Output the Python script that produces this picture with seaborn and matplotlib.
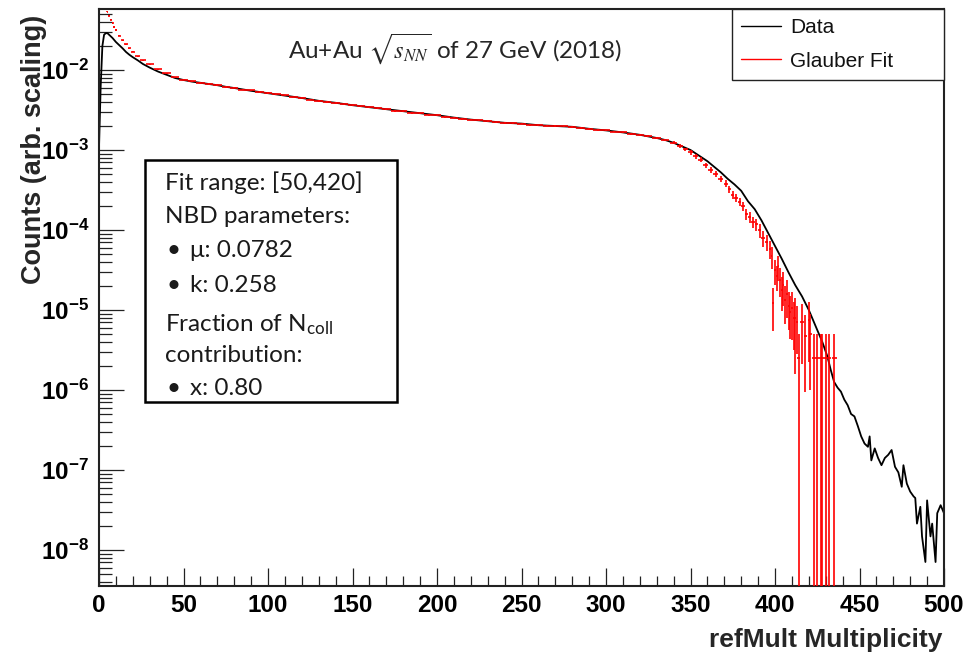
import numpy as np
import pandas as pd
import matplotlib
matplotlib.use("Agg")
import matplotlib.pyplot as plt
import seaborn as sns
from matplotlib.patches import Rectangle
from matplotlib.lines import Line2D
from matplotlib.ticker import LogLocator, NullFormatter, MultipleLocator

# ---------------- data ----------------
# Black histogram: refMult multiplicity and log10(counts)
data_mult = [0, 1, 2, 3, 4, 5, 6, 7, 8, 9,
             10, 12, 14, 16, 18, 20, 23, 26, 30, 35,
             40, 45, 50, 55, 60, 65, 70, 75, 80, 90,
             100, 110, 120, 130, 140, 150, 160, 170, 180, 190,
             200, 210, 220, 230, 240, 250, 260, 270, 280, 290,
             300, 310, 320, 330, 335, 340, 345, 350, 355, 360,
             364, 368, 372, 376, 380, 384, 388, 392, 396, 400,
             404, 408, 412, 416, 420, 424, 428, 431, 433, 435,
             437, 439, 441, 443, 445, 447, 449, 451, 453, 455,
             456, 457, 459, 461, 463, 465, 467, 469, 471, 473,
             475, 476, 478, 480, 482, 483, 484, 486, 487, 489,
             490, 492, 493, 495, 496, 498, 500]
data_log10 = [-2.97, -2.20, -1.70, -1.56, -1.54, -1.54, -1.56, -1.58, -1.60, -1.625,
              -1.65, -1.69, -1.73, -1.775, -1.81, -1.84, -1.88, -1.925, -1.97, -2.02,
              -2.06, -2.10, -2.125, -2.145, -2.16, -2.175, -2.19, -2.21, -2.225, -2.26,
              -2.29, -2.32, -2.35, -2.385, -2.41, -2.44, -2.465, -2.49, -2.515, -2.54,
              -2.565, -2.595, -2.62, -2.64, -2.66, -2.67, -2.69, -2.70, -2.71, -2.735,
              -2.755, -2.78, -2.81, -2.85, -2.875, -2.91, -2.955, -3.00, -3.07, -3.14,
              -3.21, -3.28, -3.36, -3.43, -3.51, -3.64, -3.74, -3.88, -4.04, -4.20,
              -4.36, -4.53, -4.69, -4.83, -5.00, -5.20, -5.40, -5.58, -5.75, -5.90,
              -5.97, -6.02, -6.12, -6.19, -6.30, -6.33, -6.45, -6.58, -6.67, -6.71,
              -6.58, -6.88, -6.73, -6.85, -6.94, -6.85, -6.81, -6.75, -6.96, -7.03,
              -7.21, -6.94, -7.17, -7.27, -7.33, -7.35, -7.67, -7.46, -7.83, -8.15,
              -7.38, -7.83, -7.67, -8.15, -7.54, -7.44, -7.54]

# Red Glauber fit points: multiplicity, log10(value), relative error
fit_mult = [5, 6, 7, 8, 9, 10, 12, 14, 16, 18, 20, 23, 26, 30, 35, 40, 45,
            50, 55, 60, 65, 70, 75, 80, 85, 90, 95,
            100, 105, 110, 115, 120, 125, 130, 135, 140, 145,
            150, 155, 160, 165, 170, 175, 180, 185, 190, 195,
            200, 205, 210, 215, 220, 225, 230, 235, 240, 245,
            250, 255, 260, 265, 270, 275, 280, 285, 290, 295,
            300, 305, 310, 315, 320, 325, 330, 335, 340,
            344, 347, 350, 353, 356, 359, 362, 365, 368, 371,
            373, 375, 377, 379, 381, 383, 385, 387, 389, 391, 393, 395, 397,
            398, 399, 400, 401, 402, 403, 404, 405, 406, 407, 408, 409, 410,
            411, 412, 413, 414,
            416, 418, 420, 421, 423, 425, 427, 428, 430, 432, 435]
fit_log10 = [-1.27, -1.32, -1.37, -1.41, -1.46, -1.50, -1.57, -1.63, -1.68, -1.73,
             -1.77, -1.83, -1.88, -1.93, -1.99, -2.04, -2.09,
             -2.12, -2.14, -2.16, -2.175, -2.185, -2.21, -2.22, -2.245, -2.255, -2.275,
             -2.285, -2.305, -2.315, -2.34, -2.345, -2.37, -2.385, -2.40, -2.41, -2.43,
             -2.44, -2.455, -2.465, -2.48, -2.49, -2.51, -2.515, -2.535, -2.54, -2.56,
             -2.565, -2.585, -2.595, -2.61, -2.62, -2.63, -2.64, -2.655, -2.66, -2.665,
             -2.67, -2.685, -2.69, -2.695, -2.70, -2.705, -2.71, -2.725, -2.735, -2.75,
             -2.755, -2.77, -2.78, -2.795, -2.81, -2.83, -2.85, -2.875, -2.91,
             -2.95, -2.99, -3.03, -3.08, -3.12, -3.19, -3.25, -3.30, -3.36, -3.42,
             -3.49, -3.56, -3.60, -3.65, -3.70, -3.80, -3.84, -3.90, -3.93, -4.00, -4.10, -4.15, -4.24,
             -4.33, -4.91, -4.50, -4.58, -4.45, -4.62, -4.75, -4.69, -4.88, -4.80, -4.95, -5.02, -4.98,
             -5.10, -5.10, -5.15, -5.60,
             -5.15, -5.32, -5.13, -5.30, -5.60, -5.60, -5.60, -5.60, -5.60, -5.60, -5.60]
fit_relerr = [0.02, 0.02, 0.02, 0.02, 0.02, 0.02, 0.02, 0.02, 0.02, 0.02,
              0.02, 0.02, 0.02, 0.02, 0.02, 0.02, 0.02,
              0.02, 0.02, 0.02, 0.02, 0.02, 0.02, 0.02, 0.02, 0.02, 0.02,
              0.02, 0.02, 0.02, 0.02, 0.02, 0.02, 0.02, 0.02, 0.02, 0.02,
              0.02, 0.02, 0.02, 0.02, 0.02, 0.02, 0.02, 0.02, 0.02, 0.02,
              0.02, 0.02, 0.02, 0.02, 0.02, 0.02, 0.02, 0.02, 0.02, 0.02,
              0.02, 0.02, 0.02, 0.02, 0.02, 0.02, 0.02, 0.02, 0.02, 0.02,
              0.02, 0.02, 0.02, 0.03, 0.03, 0.03, 0.03, 0.04, 0.04,
              0.05, 0.05, 0.06, 0.06, 0.07, 0.07, 0.08, 0.08, 0.09, 0.10,
              0.10, 0.11, 0.12, 0.12, 0.13, 0.15, 0.15, 0.17, 0.18, 0.20, 0.22, 0.22, 0.25,
              0.30, 0.55, 0.35, 0.35, 0.35, 0.40, 0.45, 0.45, 0.50, 0.50, 0.50, 0.55, 0.60,
              0.60, 0.80, 0.60, 1.00,
              0.70, 0.80, 0.70, 0.80, 1.00, 1.00, 1.00, 1.00, 1.00, 1.00, 1.00]

x_ticks = [0, 50, 100, 150, 200, 250, 300, 350, 400, 450, 500]
x_tick_labels = ["0", "50", "100", "150", "200", "250", "300", "350", "400", "450", "500"]
y_tick_exponents = [-8, -7, -6, -5, -4, -3, -2]

legend_labels = ["Data", "Glauber Fit"]
title_text = r"Au+Au $\sqrt{s_{NN}}$ of 27 GeV (2018)"
info_lines = ["Fit range: [50,420]", "NBD parameters:", None, None,
              r"Fraction of N$_{\mathrm{coll}}$", "contribution:", None]
info_bullets = {2: "μ: 0.0782", 3: "k: 0.258", 6: "x: 0.80"}

# ---------------- style ----------------
sns.set_theme(style="white")
plt.rcParams["font.family"] = ["Liberation Sans", "DejaVu Sans"]
plt.rcParams.update({
    "mathtext.fontset": "custom",
    "mathtext.rm": "Lato",
    "mathtext.it": "STIXGeneral:italic",
    "mathtext.bf": "Liberation Sans:bold",
    "mathtext.fallback": "stix",
    "axes.edgecolor": "#222222",
    "axes.linewidth": 1.5,
    "xtick.bottom": True,
    "ytick.left": True,
})

fig = plt.figure(figsize=(9.72, 6.55), dpi=100)
ax = fig.add_axes([99 / 972, 1 - 586 / 655, (944 - 99) / 972, (586 - 9) / 655])
ax.set_yscale("log")

df = pd.DataFrame({"mult": data_mult, "counts": 10 ** np.array(data_log10)})
sns.lineplot(data=df, x="mult", y="counts", ax=ax, color="black", lw=1.3,
             estimator=None, sort=False, legend=False, zorder=2)

fx = np.array(fit_mult, dtype=float)
fy = 10 ** np.array(fit_log10)
ferr = np.array(fit_relerr) * fy
flow = np.where(ferr >= fy, fy - 1e-15, ferr)
fxerr = np.gradient(fx) / 2.0
ax.errorbar(fx, fy, xerr=fxerr, yerr=[flow, ferr], fmt="none", ecolor="red",
            elinewidth=1.2, capsize=0, zorder=3)

ax.set_xlim(0, 500)
ax.set_ylim(10 ** (-8.45), 10 ** (-1.2375))

ax.set_xticks(x_ticks)
ax.set_xticklabels(x_tick_labels, fontweight="bold")
ax.xaxis.set_minor_locator(MultipleLocator(10))
ax.set_yticks([10.0 ** e for e in y_tick_exponents])
ax.set_yticklabels([r"$\mathbf{10^{%d}}$" % e for e in y_tick_exponents])
ax.yaxis.set_minor_locator(LogLocator(base=10, subs=np.arange(2, 10)))
ax.yaxis.set_minor_formatter(NullFormatter())

ax.tick_params(axis="both", which="both", direction="in", top=False, right=False,
               bottom=True, left=True, color="#222222", width=0.9, labelcolor="black")
ax.tick_params(axis="x", which="major", length=13, pad=6, labelsize=17.5)
ax.tick_params(axis="x", which="minor", length=7)
ax.tick_params(axis="y", which="major", length=18, pad=7, labelsize=17.5)
ax.tick_params(axis="y", which="minor", length=9)
for sp in ax.spines.values():
    sp.set_visible(True)
    sp.set_color("#222222")
    sp.set_linewidth(1.5)

ax.set_ylabel("Counts (arb. scaling)", fontsize=19.5, fontweight="bold", loc="top")
ax.yaxis.set_label_coords(-0.062, 0.99)
ax.set_xlabel("refMult Multiplicity", fontsize=19, fontweight="bold", loc="right")
ax.xaxis.set_label_coords(0.9976, -0.073)

# legend
handles = [Line2D([], [], color="black", lw=1.0), Line2D([], [], color="red", lw=1.0)]
leg = ax.legend(handles, legend_labels, loc="upper left",
                bbox_to_anchor=(0.749, 0.0, 0.251, 1.0), mode="expand",
                borderaxespad=0, frameon=True, fancybox=False, framealpha=1,
                edgecolor="#222222", fontsize=15, handlelength=1.9,
                handletextpad=0.45, labelspacing=0.68, borderpad=0.45)
leg.get_frame().set_linewidth(1.0)
for t in leg.get_texts():
    t.set_color("#111111")

# title
ax.text(0.421, 0.932, title_text, transform=ax.transAxes, ha="center", va="center",
        fontsize=17.5, family=["Lato", "DejaVu Sans"], color="#262626")

# info box
ax.add_patch(Rectangle((0.0544, 0.3189), 0.2983, 0.4194, transform=ax.transAxes,
                       facecolor="white", edgecolor="black", lw=1.8, zorder=4))
baselines = [0.6863, 0.6286, 0.5707, 0.5100, 0.4407, 0.3887, 0.3310]
for i, yb in enumerate(baselines):
    if info_lines[i] is not None:
        ax.text(0.0781, yb, info_lines[i], transform=ax.transAxes, ha="left",
                va="baseline", fontsize=17.5, family=["Lato", "DejaVu Sans"],
                color="#1a1a1a", zorder=5)
    else:
        ax.text(0.0800, yb, "•", transform=ax.transAxes, ha="left", va="baseline",
                fontsize=17.5, family=["Lato", "DejaVu Sans"], color="#1a1a1a", zorder=5)
        ax.text(0.1077, yb, info_bullets[i], transform=ax.transAxes, ha="left",
                va="baseline", fontsize=17.5, family=["Lato", "DejaVu Sans"],
                color="#1a1a1a", zorder=5)

fig.savefig("out.png", dpi=100)
